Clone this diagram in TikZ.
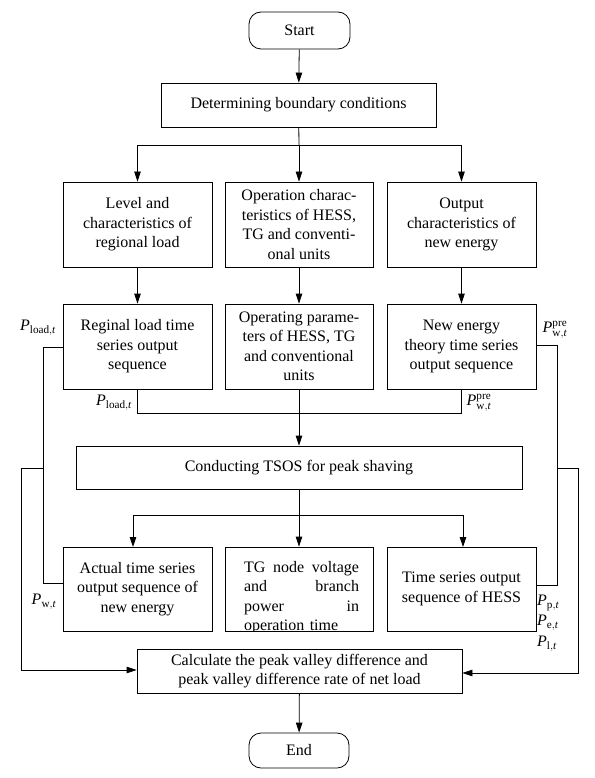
\documentclass[tikz,border=0pt]{standalone}
\usepackage{fontspec}
\setmainfont{Liberation Serif}
\usetikzlibrary{arrows.meta}
\begin{document}
\begin{tikzpicture}[x=1pt,y=-1pt,
  every node/.style={font=\fontsize{16}{19.5}\selectfont},
  box/.style={draw, line width=0.8pt, inner sep=0pt, align=center, font=\fontsize{16}{19.5}\selectfont},
  term/.style={box, rounded corners=12pt},
  ln/.style={line width=0.8pt},
  arr/.style={line width=0.8pt, -{Triangle[length=10pt,width=6.5pt]}},
  lbl/.style={inner sep=0pt, font=\fontsize{16}{19.5}\selectfont}]
\useasboundingbox (0,0) rectangle (594,778);

% nodes
\node[term, minimum width=101pt, minimum height=37pt] (startn) at (299.5,30.5) {Start};
\node[box, minimum width=275pt, minimum height=44pt] (det) at (298.5,105) {Determining boundary conditions};

\node[box, minimum width=149pt, minimum height=85pt] (b11) at (137.5,224.5) {Level and\\characteristics of\\regional load};
\node[box, minimum width=148pt, minimum height=85pt] (b12) at (299,224.5) {Operation charac-\\teristics of HESS,\\TG and conventi-\\onal units};
\node[box, minimum width=149pt, minimum height=85pt] (b13) at (461.5,224.5) {Output\\characteristics of\\new energy};

\node[box, minimum width=149pt, minimum height=85pt] (b21) at (137.5,346.5) {Reginal load time\\series output\\sequence};
\node[box, minimum width=148pt, minimum height=85pt] (b22) at (299,346.5) {Operating parame-\\ters of HESS, TG\\and conventional\\units};
\node[box, minimum width=149pt, minimum height=85pt] (b23) at (461.5,346.5) {New energy\\theory time series\\output sequence};

\node[box, minimum width=446pt, minimum height=43pt] (tsos) at (299,467.5) {Conducting TSOS for peak shaving};

\node[box, minimum width=149pt, minimum height=84pt] (b31) at (137.5,589) {Actual time series\\output sequence of\\new energy};
\node[box, minimum width=148pt, minimum height=84pt] (b32) at (299,589) {};
\begin{scope}
  \clip (b32.south west) rectangle (b32.north east);
  \node[inner sep=0pt, align=left, text width=115pt, font=\fontsize{16}{19.5}\selectfont] (b32t) at (301.5,597.5)
    {\makebox[115pt][l]{TG\hfill node\hfill voltage}\\\makebox[115pt][l]{and\hfill branch}\\\makebox[115pt][l]{power\hfill in}\\operation time};
\end{scope}
\node[box, minimum width=149pt, minimum height=84pt] (b33) at (461.5,589) {Time series output\\sequence of HESS};

\node[box, minimum width=325pt, minimum height=44pt] (calc) at (299.5,671) {Calculate the peak valley difference and\\peak valley difference rate of net load};
\node[term, minimum width=100pt, minimum height=35pt] (endn) at (299,750.5) {End};

% labels
\node[lbl] (lp1) at (38,328) {$\mathit{P}_{\mathrm{load},\mathit{t}}$};
\node[lbl] (lp2) at (114,403) {$\mathit{P}_{\mathrm{load},\mathit{t}}$};
\node[lbl] (lp3) at (555,330) {$\mathit{P}^{\mathrm{pre}}_{\mathrm{w},\mathit{t}}$};
\node[lbl] (lp4) at (479,403) {$\mathit{P}^{\mathrm{pre}}_{\mathrm{w},\mathit{t}}$};
\node[lbl] (lp5) at (44,602) {$\mathit{P}_{\mathrm{w},\mathit{t}}$};
\node[lbl, anchor=west] (lp6) at (537,603) {$\mathit{P}_{\mathrm{p},\mathit{t}}$};
\node[lbl, anchor=west] (lp7) at (537,623) {$\mathit{P}_{\mathrm{e},\mathit{t}}$};
\node[lbl, anchor=west] (lp8) at (537,644) {$\mathit{P}_{\mathrm{l},\mathit{t}}$};

% coordinates
\coordinate (s1) at (299,145);
\coordinate (m1) at (299,413);
\coordinate (s2) at (299,515);
\coordinate (l1) at (43,347);
\coordinate (l2) at (43,583);
\coordinate (l3) at (43,468);
\coordinate (l4) at (21,468);
\coordinate (l5) at (21,670);
\coordinate (r1) at (557,345);
\coordinate (r2) at (557,585);
\coordinate (r3) at (557,468);
\coordinate (r4) at (578,468);
\coordinate (r5) at (578,673);
\coordinate (a31) at (133,547);
\coordinate (a33) at (463,547);

% connectors
\draw[arr] (startn) -- (det);
\draw[ln] (det) -- (s1);
\draw[arr] (s1) -- (b12);
\draw[arr] (s1) -| (b11);
\draw[arr] (s1) -| (b13);

\draw[arr] (b11) -- (b21);
\draw[arr] (b12) -- (b22);
\draw[arr] (b13) -- (b23);

\draw[ln] (b21) |- (m1);
\draw[ln] (b23) |- (m1);
\draw[arr] (b22) -- (tsos);

\draw[ln] (tsos) -- (s2);
\draw[arr] (s2) -| (a31);
\draw[arr] (s2) -- (b32);
\draw[arr] (s2) -| (a33);

\draw[ln] (b21.west |- l1) -- (l1) -- (l2) -- (l2 -| b31.west);
\draw[arr] (l3) -- (l4) -- (l5) -- (l5 -| calc.west);
\draw[ln] (b23.east |- r1) -- (r1) -- (r2) -- (r2 -| b33.east);
\draw[arr] (r3) -- (r4) -- (r5) -- (r5 -| calc.east);

\draw[arr] (calc) -- (endn);
\end{tikzpicture}
\end{document}
